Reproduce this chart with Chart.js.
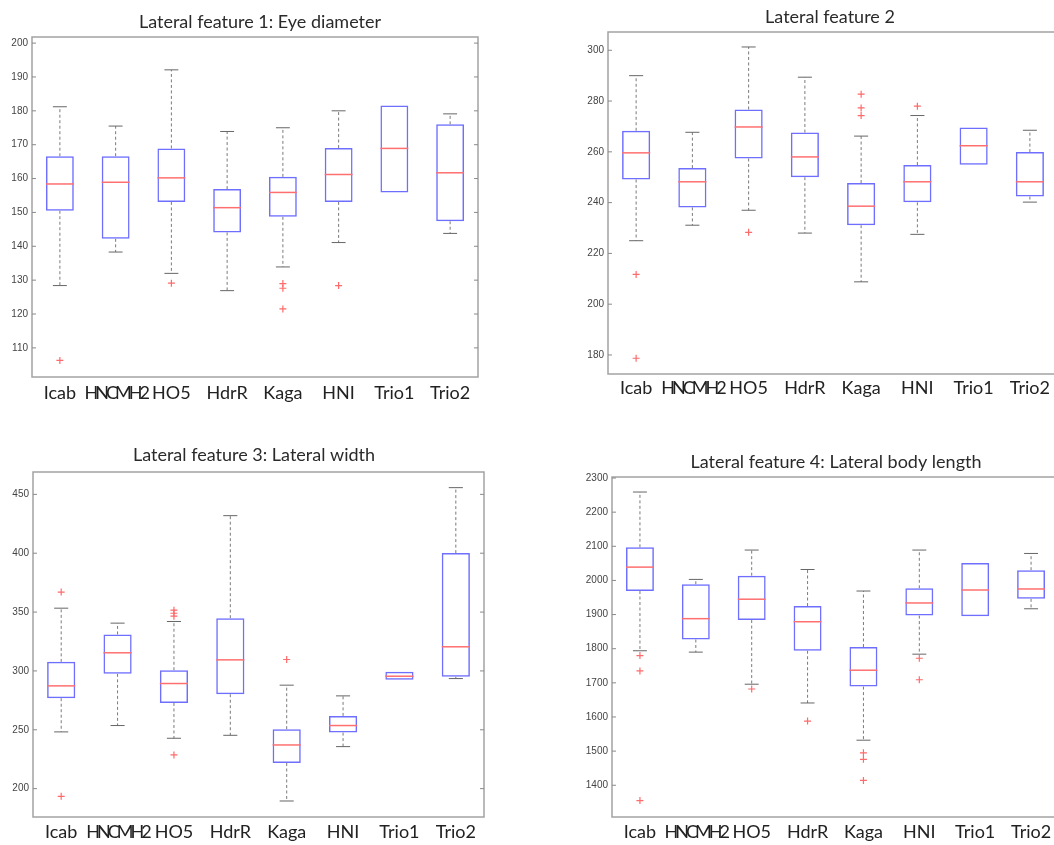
<!DOCTYPE html>
<html>
<head>
<meta charset="utf-8">
<script src="https://cdn.jsdelivr.net/npm/chart.js@4.4.1/dist/chart.umd.min.js"></script>
<style>
  html, body { margin: 0; padding: 0; background: #fff; }
  body { width: 1054px; height: 845px; overflow: hidden; position: relative; }
  canvas { position: absolute; }
</style>
</head>
<body>
<canvas id="c1"></canvas>
<canvas id="c2"></canvas>
<canvas id="c3"></canvas>
<canvas id="c4"></canvas>
<script>
// Categories shared by all four panels
const categories = ['Icab', 'HNCMH2', 'HO5', 'HdrR', 'Kaga', 'HNI', 'Trio1', 'Trio2'];

// Lateral feature 1: Eye diameter
const f1Low  = [128.4, 138.3, 132.0, 126.9, 133.9, 141.1, 155.9, 143.8];
const f1Q1   = [150.5, 142.2, 153.1, 144.1, 148.7, 153.1, 155.9, 147.4];
const f1Med  = [158.4, 158.9, 160.2, 151.4, 155.9, 161.2, 168.9, 161.7];
const f1Q3   = [166.6, 166.6, 168.9, 156.9, 160.5, 169.0, 181.6, 176.0];
const f1High = [181.2, 175.5, 192.1, 173.9, 175.0, 180.0, 181.6, 179.1];
const f1Out  = [[106.3], [], [129.1], [], [129.0, 127.6, 121.5], [128.4], [], []];
const f1Ticks = [110, 120, 130, 140, 150, 160, 170, 180, 190, 200];

// Lateral feature 2
const f2Low  = [225.0, 231.1, 237.0, 228.0, 208.8, 227.5, 254.9, 240.2];
const f2Q1   = [249.1, 238.1, 257.4, 250.0, 231.1, 240.1, 254.9, 242.4];
const f2Med  = [259.6, 248.2, 269.8, 258.0, 238.6, 248.2, 262.4, 248.2];
const f2Q3   = [268.3, 253.6, 276.7, 267.6, 247.7, 254.8, 269.6, 259.9];
const f2High = [290.0, 267.7, 301.3, 289.4, 266.2, 274.3, 269.6, 268.5];
const f2Out  = [[211.7, 178.7], [], [228.3], [], [282.7, 277.3, 274.3], [278.0], [], []];
const f2Ticks = [180, 200, 220, 240, 260, 280, 300];

// Lateral feature 3: Lateral width
const f3Low  = [248.2, 253.6, 242.8, 245.3, 189.5, 235.7, 292.4, 293.5];
const f3Q1   = [276.8, 297.5, 272.8, 280.2, 221.8, 247.6, 292.4, 295.0];
const f3Med  = [287.3, 315.4, 289.3, 309.4, 237.1, 253.6, 295.5, 320.5];
const f3Q3   = [307.7, 331.0, 300.6, 344.8, 250.5, 261.8, 299.2, 400.1];
const f3High = [353.3, 340.6, 342.0, 431.9, 287.9, 278.8, 299.2, 455.7];
const f3Out  = [[367.0, 193.5], [], [351.6, 349.0, 346.5, 228.6], [], [309.7], [], [], []];
const f3Ticks = [200, 250, 300, 350, 400, 450];

// Lateral feature 4: Lateral body length
const f4Low  = [1794, 1790, 1696, 1641, 1532, 1784, 1895, 1917];
const f4Q1   = [1969, 1827, 1884, 1794, 1689, 1897, 1895, 1946];
const f4Med  = [2039, 1888, 1945, 1879, 1737, 1934, 1972, 1975];
const f4Q3   = [2097, 1989, 2014, 1925, 1805, 1977, 2051, 2030];
const f4High = [2259, 2003, 2089, 2032, 1969, 2089, 2051, 2079];
const f4Out  = [[1780, 1735, 1355], [], [1682], [1588], [1495, 1476, 1414], [1772, 1709], [], []];
const f4Ticks = [1400, 1500, 1600, 1700, 1800, 1900, 2000, 2100, 2200, 2300];

// panel geometry in page pixels
const panels = [
  { id: 'c1', title: 'Lateral feature 1: Eye diameter', left: 0, top: 0, w: 527, h: 415,
    plot: [32, 37, 478, 377], titleAt: [260, 22], labelY: 393, yMin: 101.4, yMax: 201.8,
    low: f1Low, q1: f1Q1, med: f1Med, q3: f1Q3, high: f1High, out: f1Out, ticks: f1Ticks },
  { id: 'c2', title: 'Lateral feature 2', left: 527, top: 0, w: 560, h: 415,
    plot: [608, 32, 1058, 374], titleAt: [830, 17], labelY: 388, yMin: 172.5, yMax: 307.2,
    low: f2Low, q1: f2Q1, med: f2Med, q3: f2Q3, high: f2High, out: f2Out, ticks: f2Ticks },
  { id: 'c3', title: 'Lateral feature 3: Lateral width', left: 0, top: 430, w: 527, h: 415,
    plot: [33, 472, 484, 817], titleAt: [254, 455], labelY: 832, yMin: 175.9, yMax: 469,
    low: f3Low, q1: f3Q1, med: f3Med, q3: f3Q3, high: f3High, out: f3Out, ticks: f3Ticks },
  { id: 'c4', title: 'Lateral feature 4: Lateral body length', left: 527, top: 430, w: 560, h: 415,
    plot: [612, 477, 1059, 817], titleAt: [836, 462], labelY: 832, yMin: 1307, yMax: 2303,
    low: f4Low, q1: f4Q1, med: f4Med, q3: f4Q3, high: f4High, out: f4Out, ticks: f4Ticks }
];

// whiskers, medians, frame, inward ticks, category labels and title
function boxExtras(p) {
  return {
    id: 'boxExtras',
    afterDatasetsDraw(chart) {
      const { ctx, chartArea: a, scales: { x, y } } = chart;
      const bars = chart.getDatasetMeta(0).data;
      ctx.save();
      p.med.forEach((m, i) => {
        const cx = x.getPixelForValue(i);
        const half = bars[i].width / 2;
        const cap = half / 2;
        ctx.lineWidth = 1;
        [[p.q3[i], p.high[i]], [p.q1[i], p.low[i]]].forEach(([from, to]) => {
          if (Math.abs(from - to) < 0.01) return;
          ctx.strokeStyle = '#7a7a7a';
          ctx.setLineDash([3, 2.5]);
          ctx.beginPath();
          ctx.moveTo(cx, y.getPixelForValue(from));
          ctx.lineTo(cx, y.getPixelForValue(to));
          ctx.stroke();
          ctx.setLineDash([]);
          ctx.strokeStyle = '#666';
          ctx.beginPath();
          ctx.moveTo(cx - cap, y.getPixelForValue(to));
          ctx.lineTo(cx + cap, y.getPixelForValue(to));
          ctx.stroke();
        });
        ctx.strokeStyle = '#ff6f6f';
        ctx.lineWidth = 1.5;
        ctx.beginPath();
        ctx.moveTo(cx - half, y.getPixelForValue(m));
        ctx.lineTo(cx + half, y.getPixelForValue(m));
        ctx.stroke();
      });
      // frame
      ctx.strokeStyle = '#a3a3a3';
      ctx.lineWidth = 1.5;
      ctx.strokeRect(a.left, a.top, a.right - a.left, a.bottom - a.top);
      // inward y ticks on both sides
      ctx.strokeStyle = '#8a8a8a';
      ctx.lineWidth = 1;
      y.ticks.forEach(t => {
        const py = y.getPixelForValue(t.value);
        ctx.beginPath();
        ctx.moveTo(a.left, py); ctx.lineTo(a.left + 4, py);
        ctx.moveTo(a.right, py); ctx.lineTo(a.right - 4, py);
        ctx.stroke();
      });
      // category labels (HNCMH2 is squeezed in the original)
      ctx.fillStyle = '#222';
      ctx.font = '18px Lato';
      ctx.textAlign = 'center';
      ctx.textBaseline = 'middle';
      categories.forEach((c, i) => {
        ctx.letterSpacing = c === 'HNCMH2' ? '-3px' : '0px';
        ctx.fillText(c, x.getPixelForValue(i), p.labelY - p.top);
      });
      ctx.letterSpacing = '0px';
      // title
      ctx.fillStyle = '#2a2a2a';
      ctx.font = '18px Lato';
      ctx.fillText(p.title, p.titleAt[0] - p.left, p.titleAt[1] - p.top);
      ctx.restore();
    }
  };
}

panels.forEach(p => {
  const cv = document.getElementById(p.id);
  cv.width = p.w; cv.height = p.h;
  cv.style.left = p.left + 'px'; cv.style.top = p.top + 'px';
  const [pl, pt, pr, pb] = p.plot;

  const outliers = [];
  p.out.forEach((vals, i) => vals.forEach(v => outliers.push({ x: categories[i], y: v })));

  new Chart(cv, {
    type: 'bar',
    data: {
      labels: categories,
      datasets: [
        {
          data: p.q1.map((v, i) => [v, p.q3[i]]),
          backgroundColor: 'rgba(0,0,0,0)',
          borderColor: '#6e6eff',
          borderWidth: 1.5,
          borderSkipped: false,
          barPercentage: 0.5,
          categoryPercentage: 1
        },
        {
          type: 'line',
          data: outliers,
          showLine: false,
          pointStyle: 'cross',
          pointRadius: 3.5,
          pointBorderColor: '#ff6a6a',
          pointBorderWidth: 1.2
        }
      ]
    },
    options: {
      responsive: false,
      animation: false,
      events: [],
      layout: { padding: { left: 0, top: pt - p.top, right: p.w - (pr - p.left), bottom: 0 } },
      plugins: { legend: { display: false }, tooltip: { enabled: false } },
      scales: {
        x: {
          grid: { display: false, drawTicks: false },
          border: { display: false },
          ticks: { display: false },
          afterFit: s => { s.height = p.h - (pb - p.top); }
        },
        y: {
          min: p.yMin,
          max: p.yMax,
          grid: { display: false, drawTicks: false },
          border: { display: false },
          ticks: { padding: 4, color: '#444', font: { family: 'Liberation Sans', size: 10 },
                   callback: v => String(v) },
          afterBuildTicks: s => { s.ticks = p.ticks.map(v => ({ value: v })); },
          afterFit: s => { s.width = pl - p.left; }
        }
      }
    },
    plugins: [boxExtras(p)]
  });
});
</script>
</body>
</html>
